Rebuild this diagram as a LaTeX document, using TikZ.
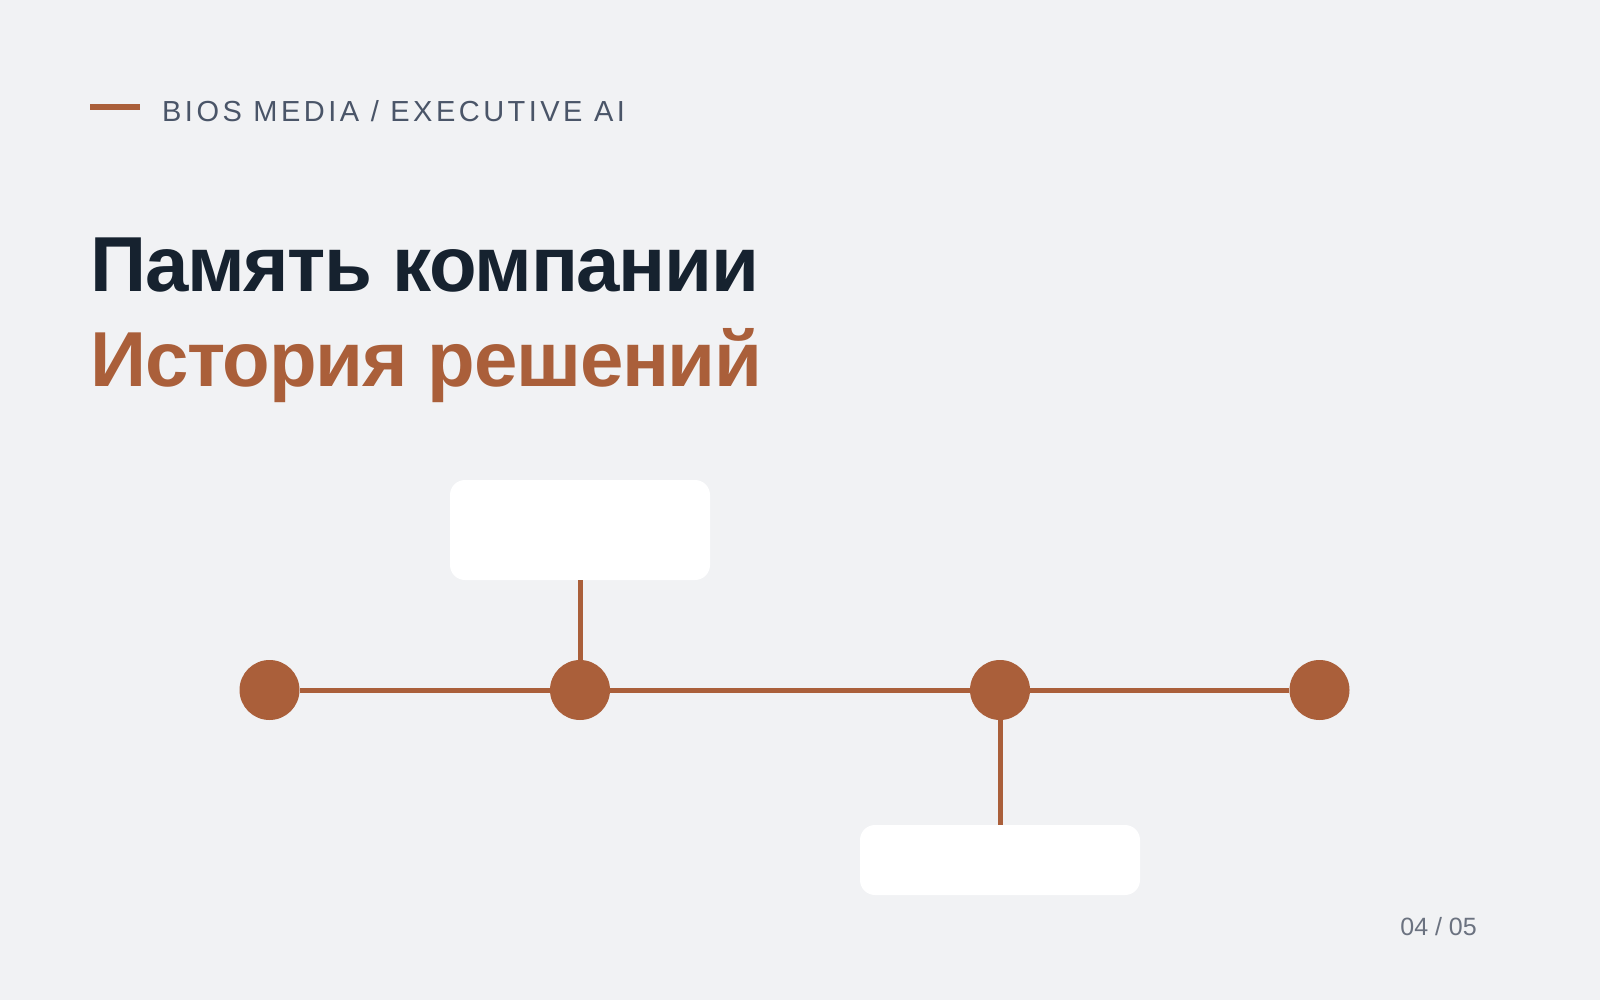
\documentclass[tikz,border=0pt]{standalone}
\usepackage{fontspec}
\setmainfont{Liberation Sans}
\newfontfamily\hdrfont[LetterSpace=12]{Liberation Sans}
\newfontfamily\ttlfont[LetterSpace=-1.7]{Liberation Sans}
\definecolor{bgc}{HTML}{F1F2F4}
\definecolor{rust}{HTML}{AA5F3A}
\definecolor{navy}{HTML}{16222F}
\definecolor{slate}{HTML}{4A5568}
\definecolor{pgc}{HTML}{6B7280}
\tikzset{
  dot/.style={circle,fill=rust,minimum size=60pt,inner sep=0pt},
  card/.style={rectangle,fill=white,rounded corners=15pt,inner sep=0pt},
  link/.style={draw=rust,line width=5pt},
  txt/.style={inner sep=0pt,anchor=base west},
  ttl/.style={txt,font=\ttlfont\bfseries\fontsize{78}{90}\selectfont}
}
\begin{document}
\begin{tikzpicture}[x=1pt,y=-1pt]
\fill[bgc] (0,0) rectangle (1600,1000);
\useasboundingbox (0,0) rectangle (1600,1000);
% header
\node[fill=rust,minimum width=50pt,minimum height=6pt,inner sep=0pt,anchor=center] (bar) at (115,107.5) {};
\node[txt,text=slate,font=\hdrfont\fontsize{29}{32}\selectfont] (hdr) at (162,122) {BIOS MEDIA / EXECUTIVE AI};
% titles
\node[ttl,text=navy] (t1) at (90,291) {Память компании};
\node[ttl,text=rust] (t2) at (90,386) {История решений};
% timeline
\node[dot] (c1) at (269.5,690) {};
\node[dot] (c2) at (580,690) {};
\node[dot] (c3) at (1000,690) {};
\node[dot] (c4) at (1319.5,690) {};
\node[card,minimum width=260pt,minimum height=100pt] (b1) at (580,530) {};
\node[card,minimum width=280pt,minimum height=70pt] (b2) at (1000,860) {};
\draw[link] (c1.east) -- (c2.west);
\draw[link] (c2.east) -- (c3.west);
\draw[link] (c3.east) -- (c4.west);
\draw[link] (b1.south) -- (c2.north);
\draw[link] (c3.south) -- (b2.north);
% page number
\node[inner sep=0pt,anchor=base east,text=pgc,font=\fontsize{25}{28}\selectfont] (pg) at (1477,935) {04 / 05};
\end{tikzpicture}
\end{document}
